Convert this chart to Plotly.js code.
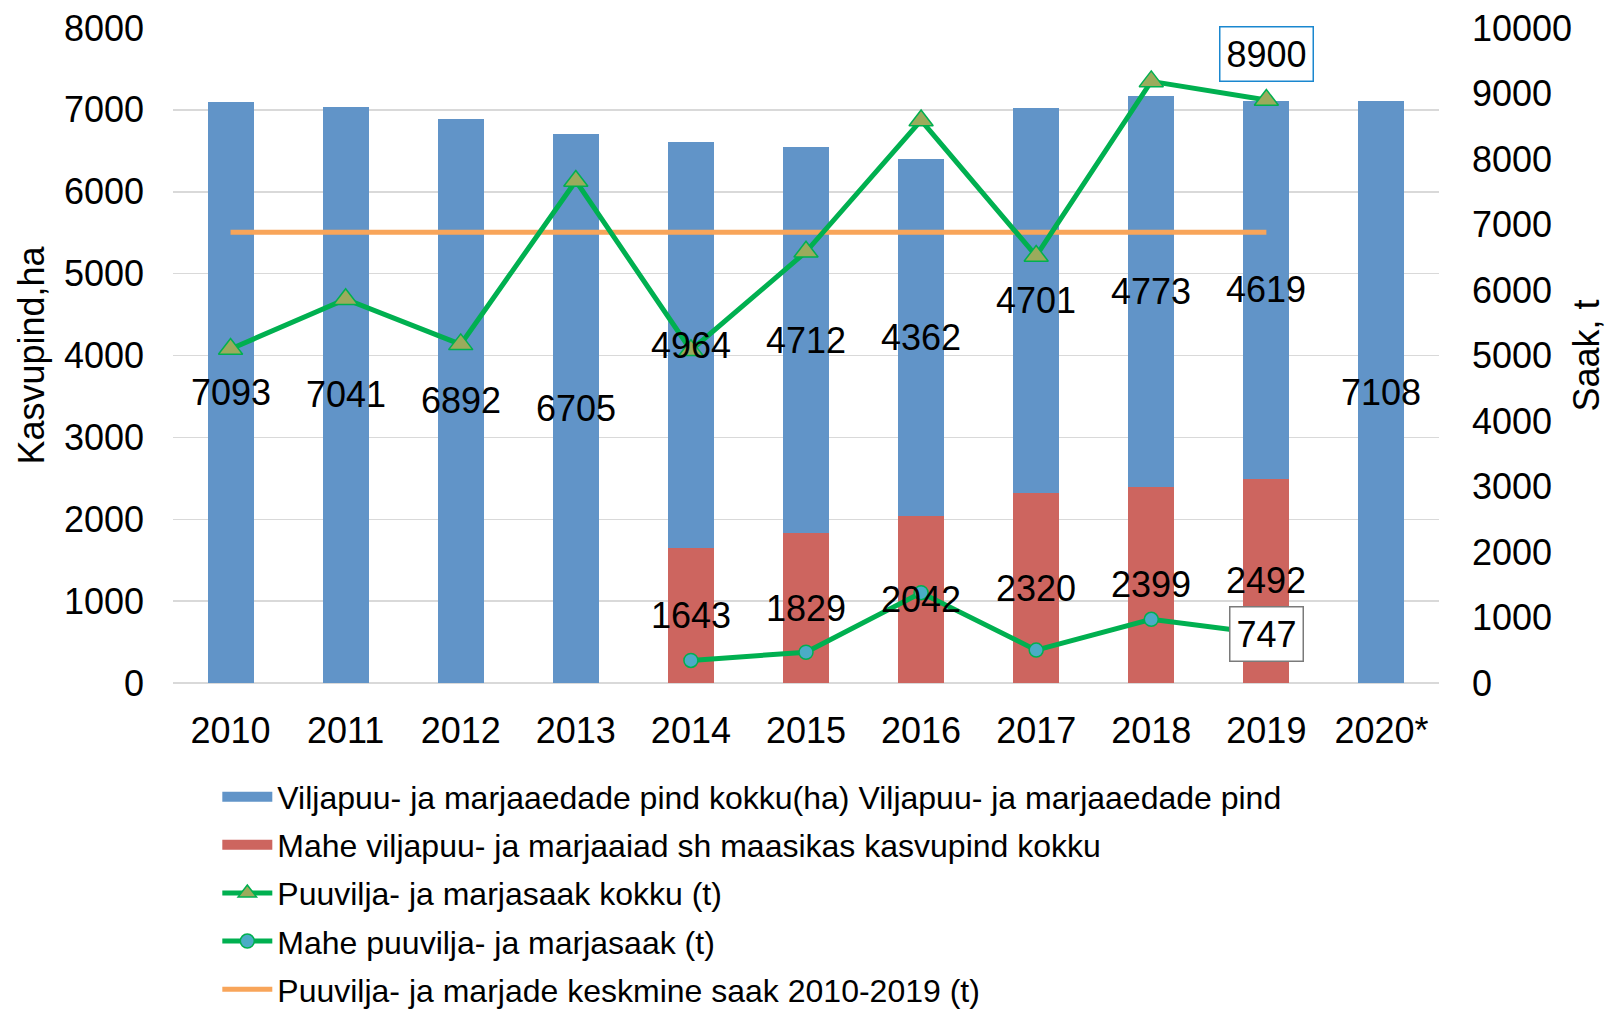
<!DOCTYPE html>
<html>
<head>
<meta charset="utf-8">
<script src="https://cdn.plot.ly/plotly-3.0.1.min.js"></script>
<style>html,body{margin:0;padding:0;background:#fff;}</style>
</head>
<body>
<div id="chart" style="width:1611px;height:1011px;"></div>
<script>
const years = ['2010','2011','2012','2013','2014','2015','2016','2017','2018','2019','2020*'];
const areaTotal = [7093, 7041, 6892, 6705, 4964, 4712, 4362, 4701, 4773, 4619, 7108];
const areaOrganic = [null, null, null, null, 1643, 1829, 2042, 2320, 2399, 2492, null];
const harvestTotal = [5100, 5860, 5170, 7665, 5080, 6583, 8589, 6520, 9185, 8900, null];
const harvestOrganic = [null, null, null, null, 345, 470, 1379, 502, 972, 747, null];
const harvestAvg = [6880, 6880, 6880, 6880, 6880, 6880, 6880, 6880, 6880, 6880, null];

const names = [
  'Viljapuu- ja marjaaedade pind kokku(ha) Viljapuu- ja marjaaedade pind',
  'Mahe viljapuu- ja marjaaiad sh maasikas kasvupind kokku',
  'Puuvilja- ja marjasaak kokku (t)',
  'Mahe puuvilja- ja marjasaak (t)',
  'Puuvilja- ja marjade keskmine saak 2010-2019 (t)'
];

const FONT = 'Liberation Sans, Arial, sans-serif';
const GREEN = '#00b050';
const BLUE = '#6194c8';
const RED = '#cd655f';

const traces = [
  {type:'bar', x:years, y:areaOrganic, name:names[1], showlegend:false,
   marker:{color:RED}, hoverinfo:'none'},
  {type:'bar', x:years, y:areaTotal, name:names[0], showlegend:false,
   marker:{color:BLUE}, hoverinfo:'none'},
  // legend swatches for the bar series (wide rectangles like the original)
  {type:'scatter', mode:'lines', x:[null], y:[null], name:names[0], legendrank:1, legendgroup:'a',
   line:{color:BLUE, width:17}, hoverinfo:'none'},
  {type:'scatter', mode:'lines', x:[null], y:[null], name:names[1], legendrank:2, legendgroup:'b',
   line:{color:RED, width:17}, hoverinfo:'none'},
  {type:'scatter', mode:'lines', x:years, y:harvestAvg, yaxis:'y2', name:names[4], legendrank:5, legendgroup:'e',
   line:{color:'#f8a55a', width:5}, hoverinfo:'none'},
  {type:'scatter', mode:'lines+markers', x:years, y:harvestTotal, yaxis:'y2', name:names[2], legendrank:3, legendgroup:'c',
   line:{color:GREEN, width:5},
   marker:{symbol:'triangle-up', size:21, color:'#9bab5c', line:{color:GREEN, width:1.5}}, hoverinfo:'none'},
  {type:'scatter', mode:'lines+markers', x:years, y:harvestOrganic, yaxis:'y2', name:names[3], legendrank:4, legendgroup:'d',
   line:{color:GREEN, width:5},
   marker:{symbol:'circle', size:14, color:'#4bacc6', line:{color:GREEN, width:1.5}}, hoverinfo:'none'}
];

const annotations = [];
for (let i = 0; i < years.length; i++) {
  const base = areaOrganic[i] || 0;
  annotations.push({x:i, y: base + areaTotal[i]/2, xref:'x', yref:'y', text:String(areaTotal[i]),
    showarrow:false, font:{family:FONT, size:36, color:'#000'}});
  if (areaOrganic[i] !== null) {
    annotations.push({x:i, y: areaOrganic[i]/2, xref:'x', yref:'y', text:String(areaOrganic[i]),
      showarrow:false, font:{family:FONT, size:36, color:'#000'}});
  }
}
// boxed labels for the last year values
annotations.push({x:9, y:harvestTotal[9], xref:'x', yref:'y2', text:String(harvestTotal[9]),
  showarrow:false, yshift:46, bgcolor:'#fff', bordercolor:'#1a87cf', borderwidth:1.5, borderpad:6,
  font:{family:FONT, size:36, color:'#000'}});
annotations.push({x:9, y:harvestOrganic[9], xref:'x', yref:'y2', text:String(harvestOrganic[9]),
  showarrow:false, yshift:0, bgcolor:'#fff', bordercolor:'#7a7a7a', borderwidth:1.5, borderpad:6,
  font:{family:FONT, size:36, color:'#000'}});

const layout = {
  width:1611, height:1011,
  margin:{l:173, r:172, t:28, b:328, autoexpand:false},
  paper_bgcolor:'#fff', plot_bgcolor:'#fff',
  barmode:'stack', bargap:0.6,
  font:{family:FONT, size:36, color:'#000'},
  showlegend:true,
  legend:{x:0.035, xanchor:'left', y:-0.132, yanchor:'top', orientation:'v',
    font:{family:FONT, size:32, color:'#000'}, itemwidth:50, tracegroupgap:3.5,
    traceorder:'grouped', bgcolor:'rgba(0,0,0,0)'},
  xaxis:{type:'category', categoryorder:'array', categoryarray:years, range:[-0.5,10.5],
    showgrid:false, showline:false, zeroline:false, ticks:'', ticklabelstandoff:23, automargin:false,
    tickfont:{family:FONT, size:36, color:'#000'}},
  yaxis:{range:[0,8000], dtick:1000, showgrid:true, gridcolor:'#d9d9d9', gridwidth:1.5, automargin:false,
    zeroline:true, zerolinecolor:'#d9d9d9', zerolinewidth:1.5, showline:false, ticks:'',
    ticklabelstandoff:28, tickformat:'d', tickfont:{family:FONT, size:36, color:'#000'},
    title:{text:'Kasvupind,ha', font:{family:FONT, size:36, color:'#000'}, standoff:8}},
  yaxis2:{range:[0,10000], dtick:1000, overlaying:'y', side:'right', showgrid:false, automargin:false,
    zeroline:false, showline:false, ticks:'', ticklabelstandoff:32, tickformat:'d',
    tickfont:{family:FONT, size:36, color:'#000'},
    title:{text:'Saak, t', font:{family:FONT, size:36, color:'#000'}, standoff:2}},
  annotations:annotations
};

Plotly.newPlot('chart', traces, layout, {displayModeBar:false, staticPlot:true});
</script>
</body>
</html>
